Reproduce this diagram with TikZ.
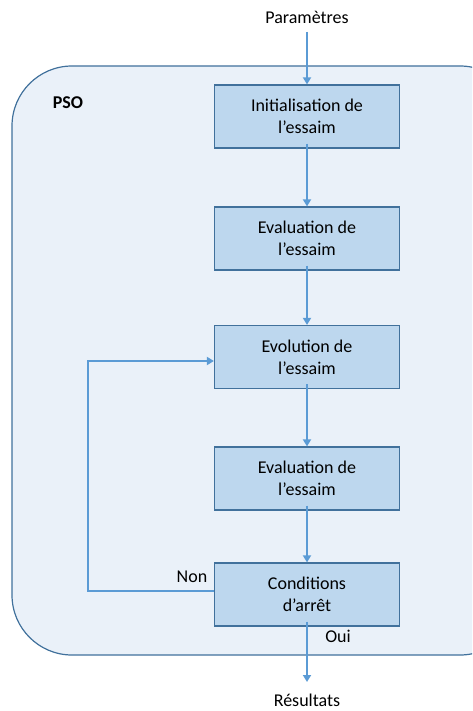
\documentclass[tikz,border=0pt]{standalone}
\usepackage{fontspec}
\setmainfont{Carlito}
\usetikzlibrary{arrows.meta}
\definecolor{bgfill}{HTML}{EAF1F9}
\definecolor{edge}{HTML}{41719C}
\definecolor{boxfill}{HTML}{BDD7EE}
\definecolor{arrowc}{HTML}{5B9BD5}
\tikzset{
  stepbox/.style={draw=edge, line width=1.2pt, fill=boxfill, minimum width=185pt, minimum height=63pt, align=center, font=\fontsize{18}{22}\selectfont, inner sep=0pt},
  flow/.style={draw=arrowc, line width=2.5pt, -{Triangle[length=7pt,width=8pt]}},
  lbl/.style={font=\fontsize{18}{22}\selectfont, inner sep=0pt}
}
\begin{document}
\begin{tikzpicture}[x=1pt,y=-1pt]
\useasboundingbox (0,0) rectangle (472,711);
\clip (0,0) rectangle (472,711);
\draw[fill=bgfill, draw=edge, line width=1.2pt, rounded corners=60pt] (12,66) rectangle (520,655);
\node[lbl, font=\fontsize{18}{22}\selectfont\bfseries] (pso) at (68,103) {PSO};
\node[stepbox] (init) at (307,116.5) {Initialisation de\\l’essaim};
\node[stepbox] (eval1) at (307,238.5) {Evaluation de\\l’essaim};
\node[stepbox] (evol) at (307,357) {Evolution de\\l’essaim};
\node[stepbox] (eval2) at (307,478.5) {Evaluation de\\l’essaim};
\node[stepbox] (cond) at (307,594.5) {Conditions\\d’arrêt};
\node[lbl] (param) at (307,17) {Paramètres};
\node[lbl] (res) at (307,700) {Résultats};
\node[lbl] (non) at (192,577) {Non};
\node[lbl] (oui) at (338,636) {Oui};
\coordinate (pstart) at (307,32);
\coordinate (rend) at (307,682);
\coordinate (l1) at (88,591);
\coordinate (l2) at (88,361);
\draw[flow] (pstart) -- (init.north);
\draw[flow] ([yshift=5pt]init.south) -- (eval1.north);
\draw[flow] ([yshift=5pt]eval1.south) -- (evol.north);
\draw[flow] ([yshift=5pt]evol.south) -- (eval2.north);
\draw[flow] ([yshift=5pt]eval2.south) -- (cond.north);
\draw[flow] ([yshift=5pt]cond.south) -- (rend);
\draw[flow] (cond.west |- l1) -- (l1) -- (l2) -- (evol.west |- l2);
\end{tikzpicture}
\end{document}
